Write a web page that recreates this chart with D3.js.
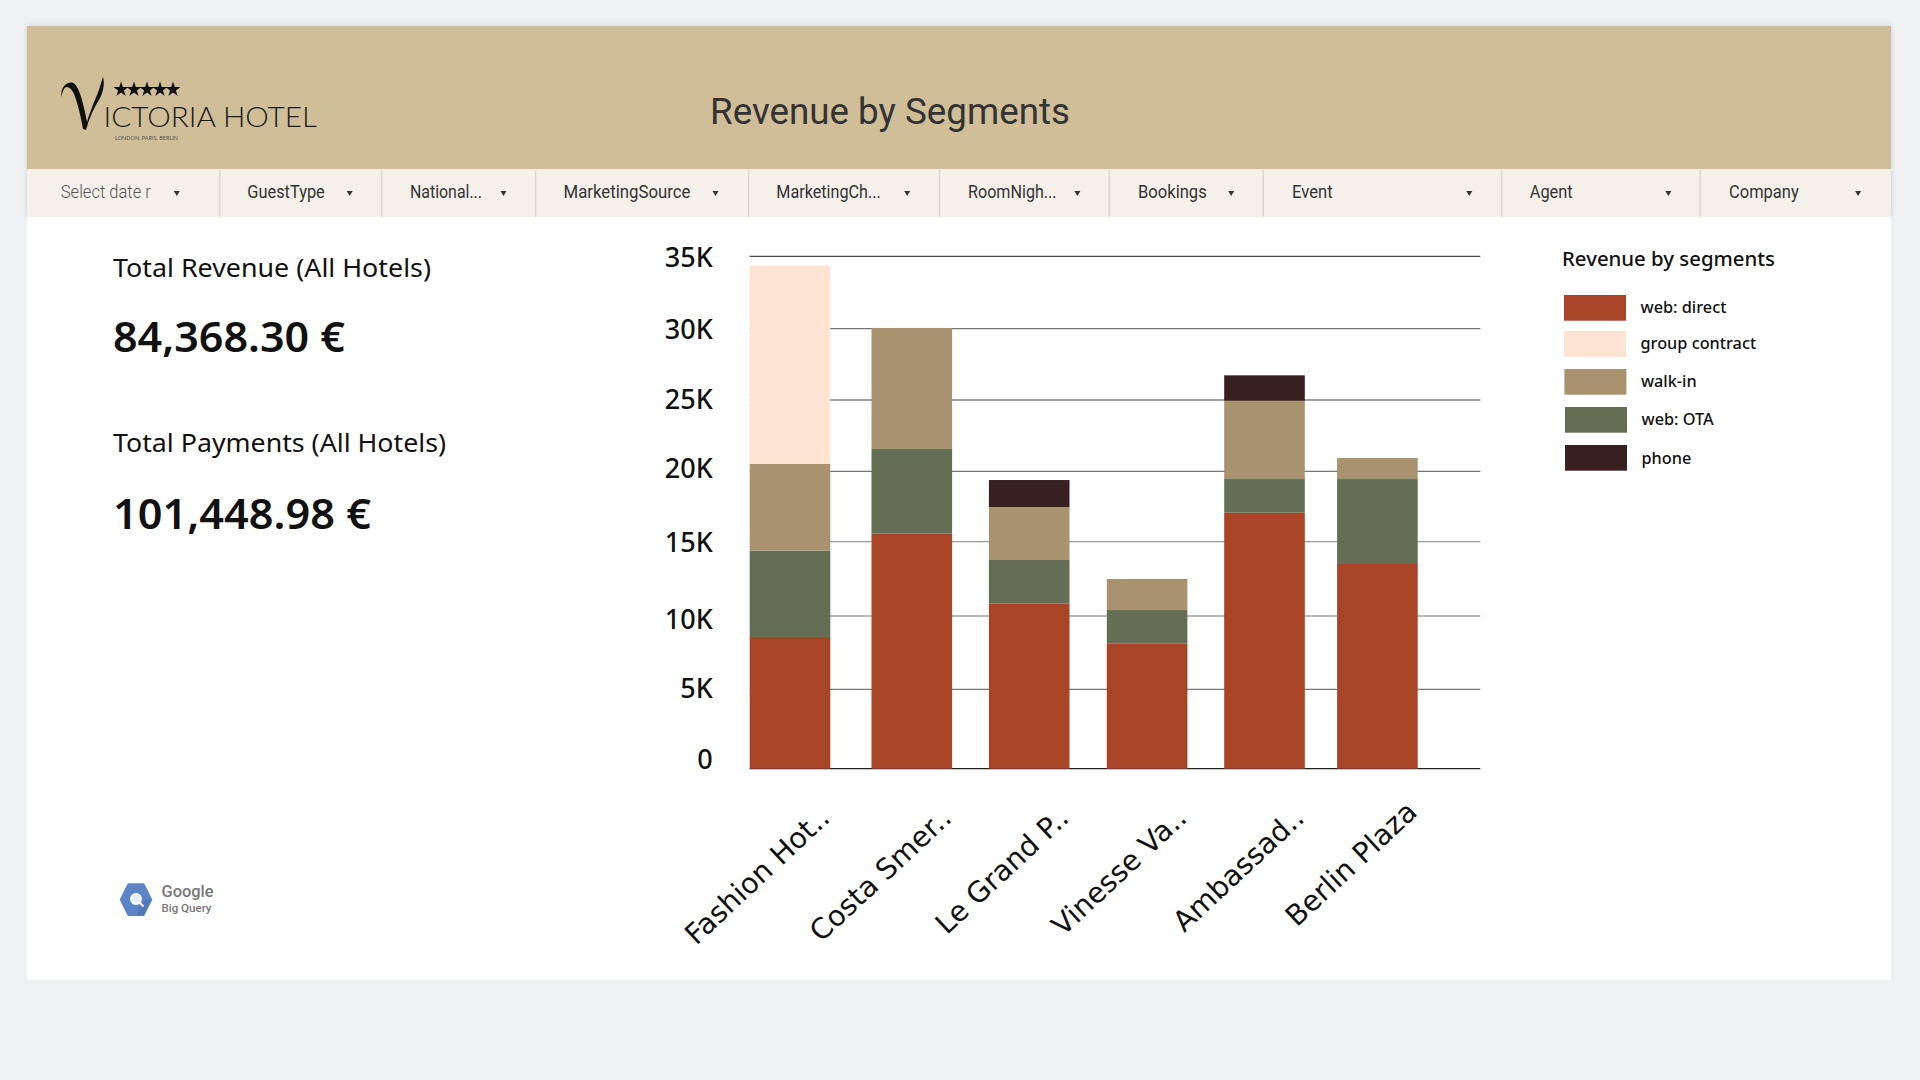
<!DOCTYPE html>
<html>
<head>
<meta charset="utf-8">
<title>Revenue by Segments</title>
<script src="https://cdn.jsdelivr.net/npm/d3@7/dist/d3.min.js"></script>
<style>
html,body{margin:0;padding:0;background:#eff0f2;overflow:hidden}
svg{display:block}
text{font-family:"Noto Sans",sans-serif}
</style>
</head>
<body>
<svg id="board" width="1920" height="1080"></svg>
<script>
// Revenue per hotel, one array per booking segment
const hotels = ["Fashion Hot..", "Costa Smer..", "Le Grand P..", "Vinesse Va..", "Ambassad..", "Berlin Plaza"];
const webDirect = [8570, 15570, 10830, 8110, 17060, 13500];
const webOTA = [5820, 5990, 2940, 2290, 2390, 5950];
const walkIn = [6140, 8490, 3690, 2090, 5500, 1480];
const groupContract = [13820, 0, 0, 0, 0, 0];
const phone = [0, 0, 1920, 0, 1780, 0];

const yTicks = [0, 5000, 10000, 15000, 20000, 25000, 30000, 35000];
const yTickLabels = ["0", "5K", "10K", "15K", "20K", "25K", "30K", "35K"];
const gridColors = ["#222", "#777", "#777", "#999", "#777", "#444", "#777", "#444"];

const legendNames = ["web: direct", "group contract", "walk-in", "web: OTA", "phone"];
const legendColors = ["#a84527", "#fde3d1", "#a9926f", "#646e55", "#382020"];

const filterNames = ["Select date r", "GuestType", "National...", "MarketingSource", "MarketingCh...", "RoomNigh...", "Bookings", "Event", "Agent", "Company"];

// Layout of the plot and the control strip
const yPixels = [768.7, 689.3, 616, 541.7, 471.3, 400, 328.7, 256.3];
const yLabelShift = [-9.7, -1.6, 2.6, 0, -3, -1, 0, 0.4];
const barLefts = [749.7, 871.5, 988.9, 1106.8, 1224.2, 1337.1];
const barWidth = 80.6;
const plotLeft = 749.7, plotRight = 1480.3;
const filterEdges = [27, 219.8, 381.6, 535.5, 748.6, 939.6, 1109.3, 1263.2, 1501.6, 1700.3, 1891];
const filterTextX = [60.8, 247.3, 410, 563.5, 776.3, 968, 1138, 1292, 1529.7, 1729];
const filterTextW = [90, 77.5, 72, 127, 104.5, 88.6, 68.7, 40.6, 43, 69.7];
const filterArrowX = [176.8, 349.7, 503.5, 715.5, 907.2, 1077.4, 1231.2, 1469.3, 1668.4, 1858.1];
const legendTops = [295, 331, 369, 407, 445];
const legendLefts = [1564, 1564, 1564.4, 1565, 1565];

const svg = d3.select("#board");

const defs = svg.append("defs");
defs.append("filter").attr("id", "lift").attr("x", "-2%").attr("y", "-5%").attr("width", "104%").attr("height", "110%")
  .append("feDropShadow").attr("dx", 0).attr("dy", 0).attr("stdDeviation", 2).attr("flood-color", "#000").attr("flood-opacity", 0.16);

// Page panels
svg.append("rect").attr("x", 27).attr("y", 26).attr("width", 1864).attr("height", 191).attr("fill", "#cfbe98").attr("filter", "url(#lift)");
svg.append("rect").attr("x", 27).attr("y", 217).attr("width", 1864).attr("height", 763).attr("fill", "#fff");
svg.append("rect").attr("x", 27).attr("y", 169).attr("width", 1864).attr("height", 48).attr("fill", "#f6f0ea");

svg.append("text").attr("x", 710).attr("y", 124).attr("font-size", 36)
  .attr("textLength", 360).attr("lengthAdjust", "spacingAndGlyphs")
  .style("font-family", "Roboto").attr("fill", "#333").text("Revenue by Segments");

// Filter strip
const filters = svg.append("g");
filterEdges.slice(1, -1).forEach(x => {
  filters.append("line").attr("x1", x).attr("x2", x).attr("y1", 170).attr("y2", 217).attr("stroke", "#dcd7d1").attr("stroke-width", 1.5);
});
filterNames.forEach((name, i) => {
  filters.append("text").attr("x", filterTextX[i]).attr("y", 198).attr("font-size", 18)
    .attr("font-weight", i === 0 ? 300 : 400)
    .attr("textLength", filterTextW[i]).attr("lengthAdjust", "spacingAndGlyphs")
    .style("font-family", "Roboto").attr("fill", i === 0 ? "#555" : "#333").text(name);
  const ax = filterArrowX[i];
  filters.append("path").attr("d", `M${ax - 3},191 L${ax + 3},191 L${ax},196 Z`).attr("fill", "#333");
});

// Hotel logo
const logo = svg.append("g");
logo.append("path")
  .attr("d", "M61.5,97 C60,88 66,82 72,82.5 C78,84 82,98 85,112 L87,122 C90,112 94,102 97,95 C100,88 101,82 103,77 C105,84 103,92 100,98 C94,108 89,118 86,130 L83,129 C81,118 78,104 74,94 C71,87 66,85 64,89 C62.5,91 62,94 61.5,97 Z")
  .attr("fill", "#111");
d3.range(5).forEach(i => {
  logo.append("path").attr("d", d3.symbol(d3.symbolStar, 70)())
    .attr("transform", `translate(${121 + i * 13},89.5)`).attr("fill", "#111");
});
logo.append("text").attr("x", 103.5).attr("y", 127).attr("font-size", 27.5).attr("font-weight", 300)
  .attr("textLength", 213.5).attr("lengthAdjust", "spacingAndGlyphs")
  .style("font-family", "Lato").attr("fill", "#1a1a1a").text("ICTORIA HOTEL");
logo.append("text").attr("x", 115).attr("y", 140).attr("font-size", 5.5)
  .attr("textLength", 63).attr("lengthAdjust", "spacingAndGlyphs")
  .style("font-family", "Lato").attr("fill", "#555").text("LONDON, PARIS, BERLIN");

// Headline figures
const kpis = [
  {t: "Total Revenue (All Hotels)", y: 277, s: 26, w: 318, wt: 400},
  {t: "84,368.30 €", y: 352, s: 42, w: 232, wt: 600},
  {t: "Total Payments (All Hotels)", y: 452, s: 26, w: 333, wt: 400},
  {t: "101,448.98 €", y: 529, s: 42, w: 258, wt: 600}
];
svg.append("g").selectAll("text").data(kpis).join("text")
  .attr("x", 113).attr("y", d => d.y).attr("font-size", d => d.s).attr("font-weight", d => d.wt)
  .attr("textLength", d => d.w).attr("lengthAdjust", "spacingAndGlyphs")
  .attr("fill", "#111").text(d => d.t);

// Scales
const y = d3.scaleLinear().domain(yTicks).range(yPixels);
const x = d3.scaleOrdinal().domain(hotels).range(barLefts);
const color = d3.scaleOrdinal().domain(legendNames).range(legendColors);

// Gridlines and value axis
const yAxis = d3.axisLeft(y).tickValues(yTicks)
  .tickFormat(v => yTickLabels[yTicks.indexOf(v)]).tickSize(0).tickPadding(0);
const axisG = svg.append("g").attr("transform", "translate(712.7,0)").call(yAxis);
axisG.select(".domain").remove();
axisG.selectAll("text").attr("font-size", 27).attr("font-weight", 500).attr("fill", "#111")
  .style("font-family", "Noto Sans")
  .attr("y", d => yLabelShift[yTicks.indexOf(d)])
  .attr("dy", "0.35em");

svg.append("g").selectAll("line").data(yTicks).join("line")
  .attr("x1", plotLeft).attr("x2", plotRight)
  .attr("y1", d => y(d)).attr("y2", d => y(d))
  .attr("stroke", (d, i) => gridColors[i]).attr("stroke-width", 1.2);

// Stacked bars
const rows = hotels.map((h, i) => ({
  hotel: h,
  "web: direct": webDirect[i],
  "web: OTA": webOTA[i],
  "walk-in": walkIn[i],
  "group contract": groupContract[i],
  "phone": phone[i]
}));
const stackKeys = ["web: direct", "web: OTA", "walk-in", "group contract", "phone"];
const layers = d3.stack().keys(stackKeys)(rows);
svg.append("g").selectAll("g").data(layers).join("g")
  .attr("fill", d => color(d.key))
  .selectAll("rect").data(d => d.filter(s => s[1] > s[0])).join("rect")
  .attr("x", d => x(d.data.hotel))
  .attr("width", barWidth)
  .attr("y", d => y(d[1]))
  .attr("height", d => y(d[0]) - y(d[1]));

// Hotel names, slanted and anchored under each bar's right edge
svg.append("g").selectAll("text").data(hotels).join("text")
  .attr("transform", (d, i) => `translate(${x(d) + barWidth + 1},${i === 5 ? 814 : 820}) rotate(-43)`)
  .attr("text-anchor", "end").attr("fill", "#111")
  .style("font-family", "DejaVu Sans").attr("font-size", 28.5).text(d => d);

// Legend
svg.append("text").attr("x", 1562).attr("y", 266).attr("font-size", 20).attr("font-weight", 500)
  .attr("textLength", 213).attr("lengthAdjust", "spacingAndGlyphs")
  .attr("fill", "#111").text("Revenue by segments");
const legend = svg.append("g").selectAll("g").data(legendNames).join("g")
  .attr("transform", (d, i) => `translate(${legendLefts[i]},${legendTops[i]})`);
legend.append("rect").attr("width", 62).attr("height", 25.7).attr("fill", d => color(d));
legend.append("text").attr("x", 76.5).attr("y", (d, i) => i === 4 ? 18.6 : 18).attr("font-size", 16.3).attr("font-weight", 500)
  .attr("fill", "#111").text(d => d);

// Data source mark
const bq = svg.append("g");
const hexPts = d3.range(6).map(i => {
  const a = i * Math.PI / 3;
  return [136 + 15.5 * Math.cos(a), 899.7 + 18 * Math.sin(a)];
});
bq.append("path").attr("d", d3.line().curve(d3.curveLinearClosed)(hexPts)).attr("fill", "#5c85c7").attr("stroke", "#5c85c7").attr("stroke-width", 1.5).attr("stroke-linejoin", "round");
bq.append("path").attr("d", "M141,904 L146,899 L151,900 L143.5,915 L137,915 Z").attr("fill", "#4b70ad").attr("opacity", 0.6);
bq.append("circle").attr("cx", 136).attr("cy", 899).attr("r", 5).attr("fill", "#e8eef8").attr("stroke", "#fff").attr("stroke-width", 1.8);
bq.append("line").attr("x1", 139.5).attr("y1", 902.5).attr("x2", 143.5).attr("y2", 906.5).attr("stroke", "#fff").attr("stroke-width", 2);
bq.append("text").attr("x", 161.5).attr("y", 897).attr("font-size", 17).attr("font-weight", 500)
  .attr("textLength", 52).attr("lengthAdjust", "spacingAndGlyphs")
  .style("font-family", "Roboto").attr("fill", "#777").text("Google");
bq.append("text").attr("x", 161.5).attr("y", 912).attr("font-size", 11.5).attr("font-weight", 500)
  .attr("textLength", 50).attr("lengthAdjust", "spacingAndGlyphs")
  .style("font-family", "Roboto").attr("fill", "#777").text("Big Query");
</script>
</body>
</html>
